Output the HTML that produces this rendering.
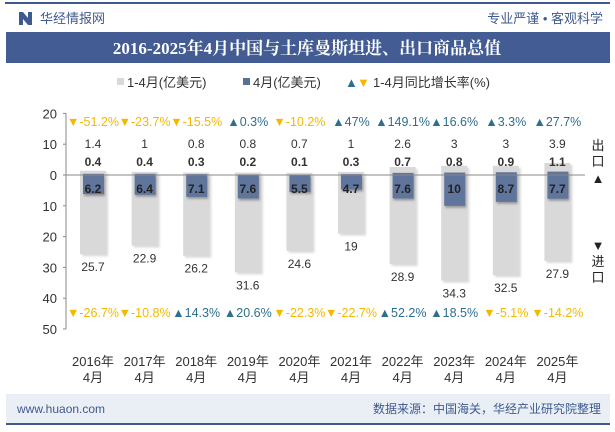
<!DOCTYPE html>
<html><head><meta charset="utf-8"><style>
body{margin:0;width:615px;height:427px;overflow:hidden;background:#fff;font-family:"Liberation Sans","Noto Sans CJK SC",sans-serif;}
</style></head><body>
<svg width="615" height="427" viewBox="0 0 615 427" xmlns="http://www.w3.org/2000/svg" font-family="Liberation Sans, Noto Sans CJK SC, sans-serif">
<rect x="5" y="2" width="605" height="2" fill="#3f5a8e"/>
<g><rect x="19" y="12" width="4" height="13" fill="#3f5a8e"/><rect x="28" y="12" width="4" height="13" fill="#3f5a8e"/><polygon points="23,12 28,18 28,25 23,19" fill="#3f5a8e"/></g>
<text x="40" y="23" font-size="13" fill="#3f5a8e">华经情报网</text>
<text x="603" y="23" font-size="13" fill="#3f5a8e" text-anchor="end">专业严谨 • 客观科学</text>
<rect x="6" y="32" width="604" height="31" fill="#435d94"/>
<text x="307" y="54" font-size="17" font-weight="bold" fill="#fff" text-anchor="middle" font-family="Liberation Serif, Noto Serif CJK SC, serif">2016-2025年4月中国与土库曼斯坦进、出口商品总值</text>
<g font-size="13" fill="#333">
<rect x="117" y="78" width="7" height="7" fill="#d9d9d9"/><text x="127" y="87">1-4月(亿美元)</text>
<rect x="243" y="78" width="7" height="7" fill="#5a6f96"/><text x="253" y="87">4月(亿美元)</text>
<text x="345" y="87" fill="#2e6e8e">▲</text><text x="357" y="87" fill="#f5b800">▼</text><text x="373" y="87">1-4月同比增长率(%)</text>
</g>
<g id="axis"></g>
<g id="marks"></g>
<g font-size="13" fill="#222">
<text x="598" y="150" text-anchor="middle">出</text><text x="598" y="166" text-anchor="middle">口</text><text x="598" y="183" text-anchor="middle">▲</text>
<text x="598" y="250" text-anchor="middle">▼</text><text x="598" y="266" text-anchor="middle">进</text><text x="598" y="282" text-anchor="middle">口</text>
</g>
<rect x="6" y="394" width="604" height="29" fill="#eaeef5"/>
<rect x="6" y="423" width="604" height="2" fill="#3f5a8e"/>
<text x="17" y="413" font-size="12" fill="#3f5a8e">www.huaon.com</text>
<text x="601" y="413" font-size="12" fill="#3f5a8e" text-anchor="end">数据来源：中国海关，华经产业研究院整理</text>
</svg>
<script>
const categories=['2016年','2017年','2018年','2019年','2020年','2021年','2022年','2023年','2024年','2025年'];
const exportYtd=[1.4,1,0.8,0.8,0.7,1,2.6,3,3,3.9];
const exportApr=[0.4,0.4,0.3,0.2,0.1,0.3,0.7,0.8,0.9,1.1];
const importYtd=[25.7,22.9,26.2,31.6,24.6,19,28.9,34.3,32.5,27.9];
const importApr=[6.2,6.4,7.1,7.6,5.5,4.7,7.6,10,8.7,7.7];
const exportYoy=[-51.2,-23.7,-15.5,0.3,-10.2,47,149.1,16.6,3.3,27.7];
const importYoy=[-26.7,-10.8,14.3,20.6,-22.3,-22.7,52.2,18.5,-5.1,-14.2];
const yTicks=[20,10,0,10,20,30,40,50];
const yTickVals=[20,10,0,-10,-20,-30,-40,-50];
const NS='http://www.w3.org/2000/svg';
const y0=175, k=3.08;
function yS(v){return y0-v*k;}
function xS(i){return 93+i*51.6;}
function mk(tag,attrs,parent,txt){const e=document.createElementNS(NS,tag);for(const a in attrs)e.setAttribute(a,attrs[a]);if(txt!==undefined)e.textContent=txt;parent.appendChild(e);return e;}
const ax=document.getElementById('axis'), g=document.getElementById('marks');
mk('line',{x1:66,y1:yS(20),x2:66,y2:yS(-50),stroke:'#888'},ax);
yTickVals.forEach((v,i)=>{mk('line',{x1:63,y1:yS(v),x2:66,y2:yS(v),stroke:'#888'},ax);
 const t=mk('text',{x:57,y:yS(v)+5,'font-size':13,fill:'#333','text-anchor':'end'},ax,yTicks[i]);
 
 });
categories.forEach((c,i)=>{
 const x=xS(i);
 const gb=mk('rect',{x:x-13,y:yS(exportYtd[i]),width:26,height:yS(-importYtd[i])-yS(exportYtd[i]),fill:'#d9d9d9',style:'filter:drop-shadow(2px 2px 1px rgba(0,0,0,0.15))'},g);
 
 
 const bb=mk('rect',{x:x-10,y:yS(exportApr[i]),width:21,height:yS(-importApr[i])-yS(exportApr[i]),fill:'#5f759c',style:'filter:drop-shadow(1px 2px 1px rgba(0,0,0,0.3))'},g);
 
 
 const lab=(yy,txt,opt)=>{const t=mk('text',Object.assign({x:x,y:yy,'font-size':12,fill:'#333','text-anchor':'middle'},opt||{}),g,txt);
  
  return t;};
 lab(148,exportYtd[i]);
 lab(166,exportApr[i],{'font-weight':'bold'});
 lab(193,importApr[i],{'font-weight':'bold','fill':'#222'});
 lab(yS(-importYtd[i])+17,importYtd[i]);
 const up1=exportYoy[i]>=0, up2=importYoy[i]>=0;
 lab(126,(up1?'▲':'▼')+exportYoy[i]+'%',{fill:up1?'#2e6e8e':'#f5b800','font-size':12.5});
 lab(317,(up2?'▲':'▼')+importYoy[i]+'%',{fill:up2?'#2e6e8e':'#f5b800','font-size':12.5});
 const t1=mk('text',{x:x,y:366,'font-size':13,fill:'#333','text-anchor':'middle'},g,c);
 
 
 const t2=mk('text',{x:x,y:382,'font-size':13,fill:'#333','text-anchor':'middle'},g,'4月');
 
 
});
mk('line',{x1:66,y1:y0,x2:585,y2:y0,stroke:'#888'},g);
</script>
</body></html>
